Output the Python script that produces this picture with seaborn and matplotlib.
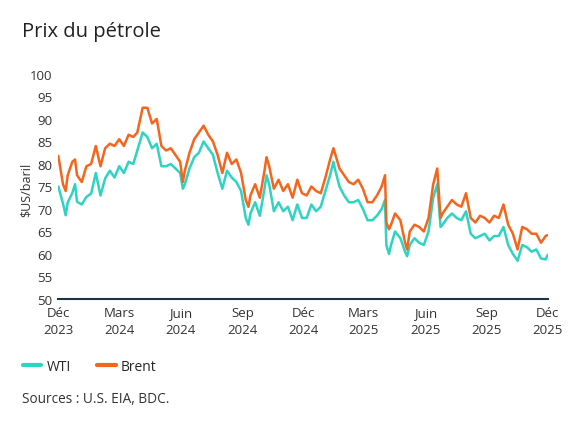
import matplotlib
matplotlib.use("Agg")
import matplotlib.pyplot as plt
import seaborn as sns
import pandas as pd

# Prix hebdomadaires ($US/baril)
dates = [
    "2023-12-01", "2023-12-08", "2023-12-12", "2023-12-15", "2023-12-22", "2023-12-26", "2023-12-29",
    "2024-01-05", "2024-01-12", "2024-01-19", "2024-01-26",
    "2024-02-02", "2024-02-09", "2024-02-16", "2024-02-23",
    "2024-03-01", "2024-03-08", "2024-03-15", "2024-03-22", "2024-03-28",
    "2024-04-05", "2024-04-12", "2024-04-19", "2024-04-26",
    "2024-05-03", "2024-05-10", "2024-05-17", "2024-05-24", "2024-05-31",
    "2024-06-04", "2024-06-07", "2024-06-14", "2024-06-21", "2024-06-28",
    "2024-07-05", "2024-07-12", "2024-07-19", "2024-07-26",
    "2024-08-02", "2024-08-09", "2024-08-16", "2024-08-23", "2024-08-30",
    "2024-09-06", "2024-09-10", "2024-09-13", "2024-09-20", "2024-09-27",
    "2024-10-04", "2024-10-07", "2024-10-11", "2024-10-18", "2024-10-25",
    "2024-11-01", "2024-11-08", "2024-11-15", "2024-11-22", "2024-11-29",
    "2024-12-06", "2024-12-13", "2024-12-20", "2024-12-27",
    "2025-01-03", "2025-01-10", "2025-01-15", "2025-01-17", "2025-01-24", "2025-01-31",
    "2025-02-07", "2025-02-14", "2025-02-21", "2025-02-28",
    "2025-03-07", "2025-03-14", "2025-03-21", "2025-03-28",
    "2025-04-02", "2025-04-04", "2025-04-08", "2025-04-11", "2025-04-17", "2025-04-25",
    "2025-05-02", "2025-05-05", "2025-05-09", "2025-05-16", "2025-05-23", "2025-05-30",
    "2025-06-06", "2025-06-13", "2025-06-19", "2025-06-24", "2025-06-27",
    "2025-07-04", "2025-07-11", "2025-07-18", "2025-07-25",
    "2025-08-01", "2025-08-08", "2025-08-15", "2025-08-22", "2025-08-29",
    "2025-09-05", "2025-09-12", "2025-09-19", "2025-09-26",
    "2025-10-03", "2025-10-10", "2025-10-17", "2025-10-24", "2025-10-31",
    "2025-11-07", "2025-11-14", "2025-11-21", "2025-11-28", "2025-12-01",
]

wti = [
    75.0, 71.2, 68.6, 71.4, 73.6, 75.5, 71.6,
    71.0, 72.7, 73.4, 78.0,
    73.0, 76.8, 78.5, 77.0,
    79.5, 78.0, 80.5, 80.0, 83.0,
    87.0, 86.0, 83.5, 84.5,
    79.5, 79.5, 80.0, 79.0, 78.0,
    74.5, 75.5, 79.0, 81.5, 82.5,
    85.0, 83.5, 82.0, 78.0,
    74.5, 78.5, 77.0, 76.0, 74.0,
    68.0, 66.5, 69.0, 71.5, 68.5,
    74.5, 77.5, 75.5, 69.5, 71.5,
    69.5, 70.5, 67.5, 71.0, 68.0,
    68.0, 71.0, 69.5, 70.5,
    74.0, 77.5, 80.5, 79.0, 75.0, 73.0,
    71.5, 71.5, 72.0, 70.0,
    67.5, 67.5, 68.5, 70.0,
    72.0, 62.0, 60.0, 62.0, 65.0, 63.5,
    60.5, 59.5, 62.0, 63.5, 62.5, 62.0,
    65.0, 72.5, 75.5, 66.0, 66.5,
    68.0, 69.0, 68.0, 67.5,
    69.5, 64.5, 63.5, 64.0, 64.5,
    63.0, 64.0, 64.0, 66.0,
    62.0, 60.0, 58.5, 62.0, 61.5,
    60.5, 61.0, 59.0, 58.8, 59.8,
]

brent = [
    81.8, 75.5, 74.0, 77.5, 80.5, 81.0, 77.5,
    76.0, 79.5, 80.0, 84.0,
    79.5, 83.5, 84.5, 84.0,
    85.5, 84.0, 86.5, 86.0, 87.0,
    92.5, 92.5, 89.0, 90.0,
    84.0, 83.0, 83.5, 82.0, 80.5,
    76.0, 78.5, 82.5, 85.5, 87.0,
    88.5, 86.5, 85.0, 82.0,
    78.0, 82.5, 80.0, 81.0, 78.0,
    72.0, 70.5, 73.0, 75.5, 72.5,
    78.5, 81.5, 79.5, 74.5, 76.5,
    74.0, 75.5, 72.5, 76.5, 73.5,
    73.0, 75.0, 74.0, 73.5,
    77.0, 81.0, 83.5, 82.5, 79.0, 77.5,
    76.0, 75.5, 76.5, 74.5,
    71.5, 71.5, 73.0, 75.0,
    77.5, 67.0, 65.5, 66.5, 69.0, 67.5,
    62.5, 61.0, 65.0, 66.5, 66.0, 65.0,
    68.0, 75.5, 79.0, 68.0, 69.0,
    70.5, 72.0, 71.0, 70.5,
    73.5, 68.0, 67.0, 68.5, 68.0,
    67.0, 68.5, 68.0, 71.0,
    66.5, 64.5, 61.0, 66.0, 65.5,
    64.5, 64.5, 62.5, 64.0, 64.2,
]

tick_dates = ["2023-12-01", "2024-03-01", "2024-06-01", "2024-09-01", "2024-12-01",
              "2025-03-01", "2025-06-01", "2025-09-01", "2025-12-01"]
tick_labels = ["Déc\n2023", "Mars\n2024", "Juin\n2024", "Sep\n2024", "Déc\n2024",
               "Mars\n2025", "Juin\n2025", "Sep\n2025", "Déc\n2025"]
y_ticks = [50, 55, 60, 65, 70, 75, 80, 85, 90, 95, 100]

couleurs = {"WTI": "#2ed3c3", "Brent": "#f4651d"}

df = pd.DataFrame({"date": pd.to_datetime(dates), "WTI": wti, "Brent": brent})
df_long = df.melt(id_vars="date", var_name="serie", value_name="prix")

sns.set_theme(style="white")
plt.rcParams["font.family"] = ["Open Sans", "DejaVu Sans"]

fig = plt.figure(figsize=(5.75, 4.31), dpi=100)
ax = fig.add_axes([0.1014, 0.304, 0.8511, 0.522])

sns.lineplot(data=df_long, x="date", y="prix", hue="serie", palette=couleurs,
             linewidth=1.8, ax=ax, legend=False)

ax.set_xlim(pd.Timestamp("2023-12-01"), pd.Timestamp("2025-12-01"))
ax.set_ylim(50, 100)
ax.set_yticks(y_ticks)
ax.set_yticklabels([str(v) for v in y_ticks], fontsize=9.5, color="#333333")
ax.set_xticks(pd.to_datetime(tick_dates))
ax.set_xticklabels(tick_labels, fontsize=9.5, color="#333333", linespacing=1.45)
ax.set_xlabel("")
ax.set_ylabel("$US/baril", fontsize=9, color="#333333")
ax.yaxis.set_label_coords(-0.053, 0.49)

for s in ["top", "right", "left"]:
    ax.spines[s].set_visible(False)
ax.spines["bottom"].set_color("#1b3546")
ax.spines["bottom"].set_linewidth(1.5)
ax.tick_params(axis="x", direction="in", length=4, width=1, color="#1b3546", pad=5)
ax.tick_params(axis="y", length=0, pad=4)

fig.text(0.038, 0.925, "Prix du pétrole", fontsize=14.5, color="#222222", va="center")

# légende sous le graphique
handles = [plt.Line2D([], [], color=couleurs[k], linewidth=3) for k in ["WTI", "Brent"]]
fig.legend(handles, ["WTI", "Brent"], loc="center left", bbox_to_anchor=(0.0395, 0.148),
           ncol=2, frameon=False, fontsize=10, handlelength=1.35, handletextpad=0.35,
           columnspacing=1.9, borderpad=0, borderaxespad=0)

fig.text(0.038, 0.074, "Sources : U.S. EIA, BDC.", fontsize=9.8, color="#333333", va="center")

fig.savefig("out.png", dpi=100)
